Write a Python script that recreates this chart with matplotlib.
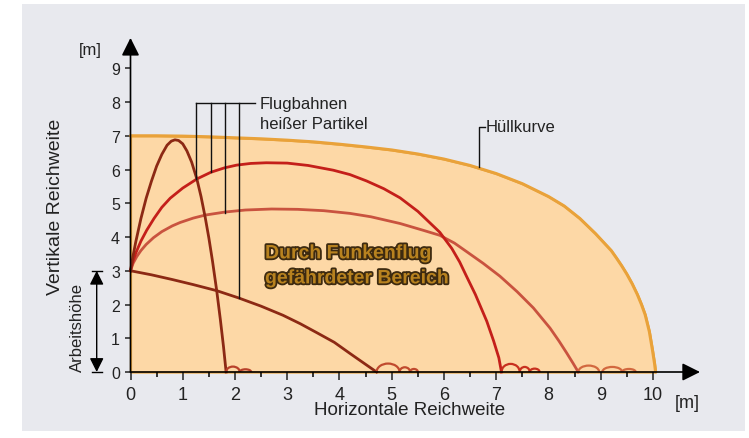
import matplotlib
matplotlib.use("Agg")
import matplotlib.pyplot as plt
from matplotlib.patches import Rectangle, Arc
import matplotlib.patheffects as pe

plt.rcParams['font.family'] = ['Liberation Sans', 'DejaVu Sans']

# ---------------- data ----------------
env_x = [0.0, 0.5, 1.0, 1.5, 2.0, 2.5, 3.0, 3.5, 4.0, 4.5, 5.0, 5.5, 6.0, 6.5, 7.0, 7.5, 8.0, 8.3,
         8.6, 8.9, 9.2, 9.3, 9.4, 9.5, 9.6, 9.7, 9.78, 9.85, 9.93, 9.99, 10.03, 10.05]
env_y = [7.0, 7.0, 6.99, 6.97, 6.94, 6.91, 6.87, 6.82, 6.75, 6.67, 6.58, 6.46, 6.31, 6.12, 5.88, 5.58, 5.2, 4.92,
         4.55, 4.1, 3.6, 3.38, 3.15, 2.9, 2.62, 2.3, 2.0, 1.7, 1.2, 0.65, 0.25, 0.0]

t1_x = [0.0, 0.05, 0.1, 0.2, 0.3, 0.4, 0.5, 0.6, 0.7, 0.78, 0.85, 0.92, 1.0, 1.08, 1.17, 1.27, 1.35, 1.43,
        1.5, 1.57, 1.65, 1.72, 1.78, 1.83]
t1_y = [3.0, 3.45, 3.85, 4.55, 5.15, 5.65, 6.1, 6.45, 6.72, 6.84, 6.88, 6.86, 6.76, 6.55, 6.22, 5.72, 5.2, 4.58,
        3.97, 3.28, 2.41, 1.55, 0.75, 0.0]

t2_x = [0.0, 0.04, 0.1, 0.2, 0.31, 0.45, 0.6, 0.76, 1.0, 1.27, 1.54, 1.8, 2.03, 2.3, 2.6, 3.0, 3.4, 3.88,
        4.2, 4.52, 4.85, 5.16, 5.5, 5.92, 6.15, 6.3, 6.43, 6.6, 6.82, 6.95, 7.05, 7.1]
t2_y = [3.0, 3.25, 3.52, 3.88, 4.2, 4.55, 4.88, 5.15, 5.45, 5.72, 5.92, 6.05, 6.13, 6.18, 6.2, 6.19, 6.12, 5.98,
        5.85, 5.66, 5.43, 5.16, 4.76, 4.14, 3.66, 3.26, 2.84, 2.3, 1.5, 0.92, 0.42, 0.0]

t3_x = [0.0, 0.05, 0.12, 0.2, 0.3, 0.44, 0.6, 0.8, 0.95, 1.2, 1.43, 1.81, 2.2, 2.7, 3.2, 3.7, 4.2, 4.6,
        5.16, 5.6, 5.92, 6.2, 6.43, 6.75, 7.07, 7.4, 7.71, 8.03, 8.2, 8.35, 8.47, 8.57]
t3_y = [3.0, 3.22, 3.42, 3.6, 3.78, 3.98, 4.16, 4.33, 4.43, 4.56, 4.65, 4.74, 4.8, 4.83, 4.82, 4.78, 4.7, 4.6,
        4.4, 4.2, 4.05, 3.82, 3.57, 3.22, 2.84, 2.38, 1.9, 1.3, 0.92, 0.56, 0.26, 0.0]

t4_x = [0.0, 0.4, 0.8, 1.2, 1.65, 2.06, 2.5, 2.92, 3.25, 3.56, 3.9, 4.2, 4.45, 4.71]
t4_y = [3.0, 2.88, 2.74, 2.59, 2.41, 2.2, 1.95, 1.68, 1.43, 1.17, 0.88, 0.55, 0.28, 0.0]

# bounces after landing: start, end, height
b1_s = [1.83, 2.09]; b1_e = [2.09, 2.31]; b1_h = [0.16, 0.08]
b4_s = [4.71, 5.15, 5.35]; b4_e = [5.15, 5.35, 5.5]; b4_h = [0.25, 0.14, 0.09]
b2_s = [7.1, 7.45, 7.64]; b2_e = [7.45, 7.64, 7.83]; b2_h = [0.24, 0.15, 0.1]
b3_s = [8.57, 9.03, 9.41]; b3_e = [8.97, 9.41, 9.67]; b3_h = [0.19, 0.15, 0.09]

x_ticks = list(range(0, 11))
x_minor = [k + 0.5 for k in range(0, 10)]
y_ticks = list(range(0, 10))

leader_x = [1.254, 1.535, 1.814, 2.077]
leader_bottom = [5.72, 5.92, 4.71, 2.18]
leader_top = 7.97
leader_right = 2.38

# ---------------- colours ----------------
C_BG = '#e8e9ee'
C_FILL = '#fdd8a6'
C_ENV = '#e9a23a'
C_DARK = '#8c2914'
C_RED = '#c41f1a'
C_SALMON = '#c9533f'

fig = plt.figure(figsize=(7.49, 4.39), dpi=100)
fig.patches.append(Rectangle((22 / 749, 1 - 432 / 439), (745 - 22) / 749, (432 - 5) / 439,
                             transform=fig.transFigure, facecolor=C_BG, edgecolor='none', zorder=-10))

ax = fig.add_axes([130.5 / 749, (439 - 373) / 439, 569.5 / 749, 334.1 / 439])
ax.set_zorder(1)
ax.set_facecolor('none')
ax.set_xlim(0, 10.9)
ax.set_ylim(0, 9.9)
for s in ax.spines.values():
    s.set_visible(False)

# envelope area
ax.fill_between(env_x, env_y, 0, facecolor=C_FILL, edgecolor=C_ENV, lw=1.6, zorder=1, clip_on=False)
ax.plot(env_x, env_y, color=C_ENV, lw=2.2, zorder=2, clip_on=False, solid_capstyle='round',
        solid_joinstyle='round')

# trajectories
for xs, ys, c in [(t3_x, t3_y, C_SALMON), (t2_x, t2_y, C_RED), (t4_x, t4_y, C_DARK), (t1_x, t1_y, C_DARK)]:
    ax.plot(xs, ys, color=c, lw=2.0, zorder=3, clip_on=False, solid_joinstyle='round')

for ss, ee, hh, c in [(b1_s, b1_e, b1_h, '#b8402a'), (b4_s, b4_e, b4_h, '#c04a2e'),
                      (b2_s, b2_e, b2_h, '#c8301f'), (b3_s, b3_e, b3_h, '#d2683f')]:
    for s, e, h in zip(ss, ee, hh):
        ax.add_patch(Arc(((s + e) / 2, 0), e - s, 2 * h, theta1=0, theta2=180,
                         color=c, lw=1.6, zorder=3, clip_on=False))

# axes with arrows
arrow_kw = dict(arrowstyle='-|>,head_length=0.6,head_width=0.3', color='black', lw=1.2,
                mutation_scale=18, shrinkA=0, shrinkB=0)
ax.annotate('', xy=(10.9, 0), xytext=(0, 0), arrowprops=arrow_kw, annotation_clip=False, zorder=5)
ax.annotate('', xy=(0, 9.9), xytext=(0, 0), arrowprops=arrow_kw, annotation_clip=False, zorder=5)

ax.set_xticks(x_ticks)
ax.set_xticks(x_minor, minor=True)
ax.set_yticks(y_ticks)
ax.tick_params(axis='x', which='major', length=6, width=1.1, pad=4, labelsize=13, colors='#222222')
ax.tick_params(axis='x', which='minor', length=3.5, width=1.1)
ax.tick_params(axis='y', which='major', length=4.5, width=1.1, pad=3, labelsize=11.5, colors='#222222')

# leader lines "Flugbahnen"
for lx, lb in zip(leader_x, leader_bottom):
    ax.plot([lx, lx], [lb, leader_top], color='#111111', lw=1.0, zorder=4)
ax.plot([leader_x[0], leader_right], [leader_top, leader_top], color='#111111', lw=1.0, zorder=4)
ax.text(2.48, leader_top, 'Flugbahnen', fontsize=12, va='center', ha='left', color='#222222')
ax.text(2.48, leader_top - 0.6, 'heißer Partikel', fontsize=12, va='center', ha='left', color='#222222')

# Hüllkurve leader
ax.plot([6.67, 6.67, 6.78], [6.07, 7.26, 7.26], color='#111111', lw=1.0, zorder=4)
ax.text(6.80, 7.27, 'Hüllkurve', fontsize=12, va='center', ha='left', color='#222222')

# danger area text
stroke = [pe.withStroke(linewidth=2.6, foreground='#3d2a10')]
ax.text(2.575, 3.50, 'Durch Funkenflug', fontsize=14, fontweight='bold', color='#b8821f',
        va='center', ha='left', path_effects=stroke, zorder=6)
ax.text(2.575, 2.76, 'gefährdeter Bereich', fontsize=14, fontweight='bold', color='#b8821f',
        va='center', ha='left', path_effects=stroke, zorder=6)

# Arbeitshöhe arrow
ah_kw = dict(arrowstyle='<|-|>,head_length=0.6,head_width=0.3', color='black', lw=1.0,
             mutation_scale=14, shrinkA=0, shrinkB=0)
ax.annotate('', xy=(-0.647, 3), xytext=(-0.647, 0), arrowprops=ah_kw, annotation_clip=False)
ax.plot([-0.737, -0.545], [3, 3], color='black', lw=1.0, clip_on=False)
ax.plot([-0.737, -0.545], [0, 0], color='black', lw=1.0, clip_on=False)
ax.text(-1.02, 1.36, 'Arbeitshöhe', rotation=90, fontsize=12, va='center', ha='center', color='#222222')

# axis titles
ax.text(-1.43, 4.92, 'Vertikale Reichweite', rotation=90, fontsize=14, va='center', ha='center', color='#222222')
ax.text(5.35, -1.12, 'Horizontale Reichweite', fontsize=13.5, va='center', ha='center', color='#222222')
ax.text(-0.775, 9.55, '[m]', fontsize=12, va='center', ha='center', color='#222222')
ax.text(10.66, -0.89, '[m]', fontsize=13, va='center', ha='center', color='#222222')

fig.savefig('out.png', dpi=100)
